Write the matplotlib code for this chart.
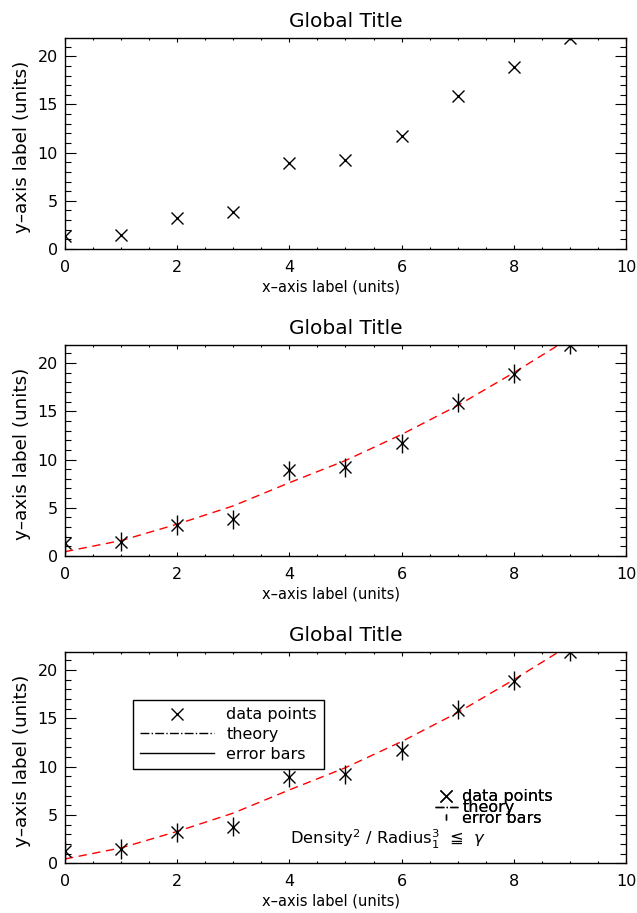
import matplotlib
matplotlib.use("Agg")
import matplotlib.pyplot as plt
from matplotlib.lines import Line2D
from matplotlib.ticker import MultipleLocator

# ---- data ----
x_vals = [0, 1, 2, 3, 4, 5, 6, 7, 8, 9]
y_vals = [1.3, 1.5, 3.2, 3.8, 8.9, 9.2, 11.7, 15.9, 18.9, 21.9]
y_err = [1.0, 1.0, 1.0, 1.0, 1.0, 1.0, 1.0, 1.0, 1.0, 1.0]
theory_vals = [0.45, 1.6, 3.3, 5.2, 7.6, 9.9, 12.6, 15.6, 19.0, 22.6]

title = "Global Title"
xlabel = "x\u2013axis label (units)"
ylabel = "y\u2013axis label (units)"
legend_labels = ["data points", "theory", "error bars"]
note = "Density$^2$ / Radius$_1^3$  \u2266  $\\gamma$"

plt.rcParams['font.family'] = ['DejaVu Sans']
fig = plt.figure(figsize=(6.37, 9.13), dpi=100)

positions = [
    [0.1020, 0.7273, 0.8807, 0.2311],
    [0.1020, 0.3910, 0.8807, 0.2314],
    [0.1020, 0.0544, 0.8807, 0.2318],
]

axes = []
for i, pos in enumerate(positions):
    ax = fig.add_axes(pos)
    ax.set_xlim(0, 10)
    ax.set_ylim(0, 21.9)
    ax.xaxis.set_major_locator(MultipleLocator(2))
    ax.xaxis.set_minor_locator(MultipleLocator(0.5))
    ax.yaxis.set_major_locator(MultipleLocator(5))
    ax.yaxis.set_minor_locator(MultipleLocator(1))
    ax.tick_params(axis='both', which='both', direction='in', top=True, right=True,
                   width=0.8, colors='black', labelsize=11.5)
    ax.tick_params(axis='x', which='major', length=3, pad=8)
    ax.tick_params(axis='x', which='minor', length=1.5)
    ax.tick_params(axis='y', which='major', length=8, pad=5)
    ax.tick_params(axis='y', which='minor', length=4)
    for s in ax.spines.values():
        s.set_linewidth(1.0)
    ax.set_title(title, fontsize=14.5, pad=8)
    ax.set_xlabel(xlabel, fontsize=10.5, labelpad=3)
    ax.xaxis.label.set_x(0.474)
    ax.set_ylabel(ylabel, fontsize=13.2, labelpad=5)
    ax.yaxis.label.set_y(0.485)
    axes.append(ax)

# panel 1: points only
axes[0].plot(x_vals, y_vals, ls='none', marker='x', ms=8.5, mew=1.0, color='black')

# panels 2 and 3: points with error bars and theory
for ax in axes[1:]:
    ax.plot(x_vals, theory_vals, color='red', lw=1.0, ls=(0, (6, 4)))
    ax.errorbar(x_vals, y_vals, yerr=y_err, fmt='x', color='black', ms=8.5, mew=1.0,
                elinewidth=1.0, capsize=0)

ax3 = axes[2]
h_pts = Line2D([], [], ls='none', marker='x', ms=8.5, mew=1.0, color='black')
h_th = Line2D([], [], ls='-.', lw=1.0, color='black')
h_err = Line2D([], [], ls='-', lw=1.0, color='black')
leg1 = ax3.legend([h_pts, h_th, h_err], legend_labels, loc='upper left',
                  bbox_to_anchor=(0.1212, 0.7717), borderaxespad=0, fontsize=11.5,
                  frameon=True, fancybox=False, edgecolor='black', framealpha=1,
                  handlelength=4.6, handletextpad=0.8, labelspacing=0.3,
                  borderpad=0.45)
leg1.get_frame().set_linewidth(1.0)
ax3.add_artist(leg1)

h_th2 = Line2D([], [], ls='-.', lw=1.0, color='black')
h_err2 = Line2D([], [], ls='none', marker='|', ms=4, mew=1.0, color='black')
leg2 = ax3.legend([h_pts, h_th2, h_err2], legend_labels, loc='upper left',
                  bbox_to_anchor=(0.66, 0.35), borderaxespad=0, fontsize=11.5,
                  frameon=False, handlelength=1.4, handletextpad=0.3,
                  labelspacing=-0.26, borderpad=0)
ax3.add_artist(leg2)

ax3.text(0.401, 0.115, note, transform=ax3.transAxes, fontsize=11.8,
         ha='left', va='center')

fig.savefig("out.png", dpi=100)
